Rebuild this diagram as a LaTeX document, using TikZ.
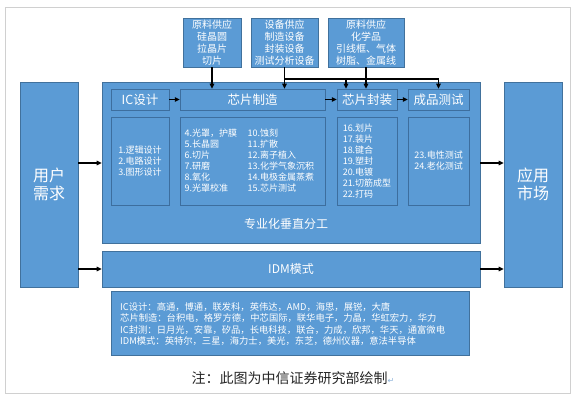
\documentclass[tikz,border=0pt]{standalone}
\usepackage{fontspec}
\setmainfont{Noto Sans CJK SC}
\newfontfamily\djv{DejaVu Sans}
\usetikzlibrary{arrows.meta}
\definecolor{bfill}{HTML}{5B9BD5}
\definecolor{bline}{HTML}{41719C}
\definecolor{iline}{HTML}{3D6E9E}
\definecolor{framec}{HTML}{D0D0D0}
\definecolor{marker}{HTML}{8FB4DA}
\begin{document}
\begin{tikzpicture}[x=1pt,y=-1pt,
  box/.style={draw=bline, line width=0.6pt, fill=bfill, text=white, inner sep=0pt, align=center},
  inbox/.style={draw=iline, line width=0.5pt, fill=bfill, text=white, inner sep=0pt, align=center},
  txt/.style={text=white, inner sep=0pt, align=left},
  arr/.style={-{Triangle[length=5pt,width=4.5pt]}, line width=1.2pt, black},
  ln/.style={line width=1.2pt, black},
  big/.style={font=\fontsize{16}{18}\selectfont},
  head/.style={font=\fontsize{12.5}{14}\selectfont},
  small/.style={font=\fontsize{9}{11}\selectfont},
  sup/.style={font=\fontsize{10}{12}\selectfont},
  comp/.style={font=\fontsize{9.3}{11.3}\selectfont}
]
\useasboundingbox (0,0) rectangle (576,401);
\fill[white] (0,0) rectangle (576,401);
\node[draw=framec, line width=0.8pt, minimum width=564.5pt, minimum height=386pt, inner sep=0pt] (frame) at (287.75,200) {};

% side boxes
\node[box, big, minimum width=58pt, minimum height=205pt] (user) at (49,184.5) {用户\\需求};
\node[box, big, minimum width=58pt, minimum height=205pt] (market) at (533,184.5) {应用\\市场};

% main boxes
\node[box, minimum width=378pt, minimum height=161pt] (main) at (291,162.5) {};
\node[txt, font=\fontsize{12}{14}\selectfont] (mainlbl) at (286,224) {专业化垂直分工};
\node[box, font=\fontsize{12}{14}\selectfont, minimum width=378pt, minimum height=36pt] (idm) at (291,269) {IDM模式};

% supply boxes
\node[box, sup, minimum width=58pt, minimum height=49pt] (s1) at (212,42.5) {原料供应\\硅晶圆\\拉晶片\\切片};
\node[box, sup, minimum width=67pt, minimum height=49pt] (s2) at (284.5,42.5) {设备供应\\制造设备\\封装设备\\测试分析设备};
\node[box, sup, minimum width=76pt, minimum height=49pt] (s3) at (366,42.5) {原料供应\\化学品\\引线框、气体\\树脂、金属线};

% header row
\node[inbox, head, minimum width=58pt, minimum height=21pt] (h1) at (140,99.5) {IC设计};
\node[inbox, head, minimum width=145pt, minimum height=21pt] (h2) at (252.5,99.5) {芯片制造};
\node[inbox, head, minimum width=60pt, minimum height=21pt] (h3) at (367,99.5) {芯片封装};
\node[inbox, head, minimum width=61pt, minimum height=21pt] (h4) at (438.5,99.5) {成品测试};

% content row
\node[inbox, small, align=left, minimum width=58pt, minimum height=88pt] (c1) at (140,161) {1.逻辑设计\\2.电路设计\\3.图形设计};
\node[inbox, minimum width=145pt, minimum height=88pt] (c2) at (252.5,161) {};
\node[txt, small, anchor=west] (c2a) at (184.5,161) {4.光罩，护膜\\5.长晶圆\\6.切片\\7.研磨\\8.氧化\\9.光罩校准};
\node[txt, small, anchor=west] (c2b) at (247.5,161) {10.蚀刻\\11.扩散\\12.离子植入\\13.化学气象沉积\\14.电极金属蒸煮\\15.芯片测试};
\node[inbox, small, align=left, minimum width=60pt, minimum height=88pt] (c3) at (367,161.5) {16.划片\\17.装片\\18.键合\\19.塑封\\20.电镀\\21.切筋成型\\22.打码};
\node[inbox, small, align=left, minimum width=61pt, minimum height=88pt] (c4) at (438.5,161) {23.电性测试\\24.老化测试};

% companies
\node[box, minimum width=358pt, minimum height=64pt] (compbox) at (290,323) {};
\node[txt, comp, anchor=west] (comptxt) at (120,324) {IC设计：高通，博通，联发科，英伟达，AMD，海思，展锐，大唐\\芯片制造：台积电，格罗方德，中芯国际，联华电子，力晶，华虹宏力，华力\\IC封测：日月光，安靠，矽品，长电科技，联合，力成，欣邦，华天，通富微电\\IDM模式：英特尔，三星，海力士，美光，东芝，德州仪器，意法半导体};

% note
\node[inner sep=0pt, text=black!85, font=\fontsize{14}{16}\selectfont] (note) at (293,378) {注：此图为中信证券研究部绘制{\djv\color{marker}\fontsize{8}{8}\selectfont ↵}};

% arrows left/right
\draw[arr] (user.east |- 0,163) -- (main.west |- 0,163);
\draw[arr] (user.east |- idm.west) -- (idm.west);
\draw[arr] (main.east |- 0,163) -- (market.west |- 0,163);
\draw[arr] (idm.east) -- (market.west |- idm.east);

% header arrows
\draw[arr] (h1.east) -- (h2.west);
\draw[arr] (h2.east) -- (h3.west);
\draw[arr] (h3.east) -- (h4.west);

% supply arrows
\coordinate (j1) at (284.5,79);
\coordinate (j2) at (346,79);
\coordinate (j3) at (438.5,79);
\draw[arr] (s1.south) -- (s1.south |- h2.north);
\draw[ln] (s2.south) -- (j1);
\draw[arr] (j1) -- (j1 |- h2.north);
\draw[ln] (j1) -- (j3);
\draw[arr] (j2) -- (j2 |- h3.north);
\draw[arr] (j3) -- (j3 |- h4.north);
\draw[arr] (s3.south) -- (s3.south |- h3.north);
\end{tikzpicture}
\end{document}
